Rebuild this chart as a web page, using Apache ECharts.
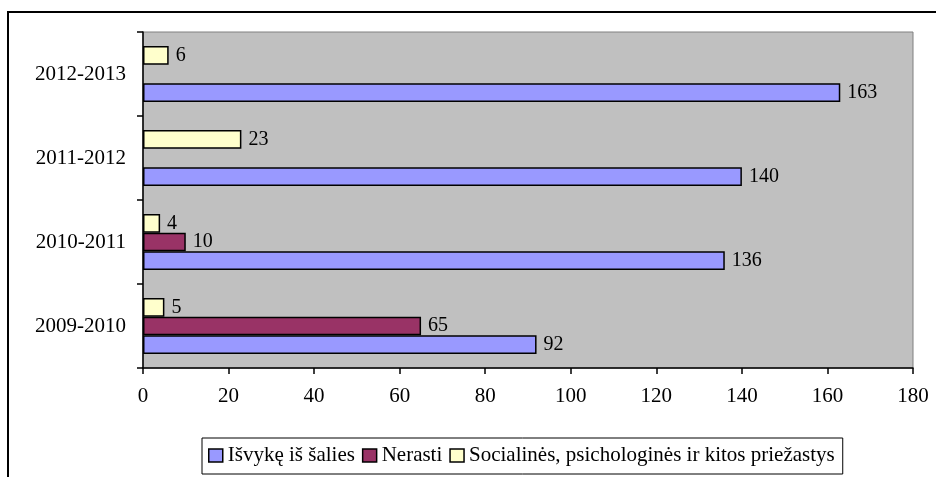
<!DOCTYPE html>
<html>
<head>
<meta charset="utf-8">
<script src="https://cdn.jsdelivr.net/npm/echarts@6/dist/echarts.min.js"></script>
<style>
  html, body { margin: 0; padding: 0; background: #fff; }
  #chart { width: 936px; height: 477px; }
</style>
</head>
<body>
<div id="chart"></div>
<script>
var categories = ['2009-2010', '2010-2011', '2011-2012', '2012-2013'];
var isvyke = [92, 136, 140, 163];
var nerasti = [65, 10, null, null];
var socialines = [5, 4, 23, 6];
var xTicks = { min: 0, max: 180, interval: 20 };

var font = 'Liberation Serif';

var chart = echarts.init(document.getElementById('chart'));

function barSeries(name, data, color) {
  return {
    name: name,
    type: 'bar',
    data: data,
    barGap: '0%',
    barCategoryGap: '33.3%',
    itemStyle: { color: color, borderColor: '#000', borderWidth: 1.5 },
    label: {
      show: true,
      position: 'right',
      distance: 7,
      color: '#000',
      fontFamily: font,
      fontSize: 20
    }
  };
}

// echarts stacks horizontal groups top-down, so the first legend item goes last
var option = {
  animation: false,
  graphic: [{
    type: 'rect',
    z: -1,
    shape: { x: 8, y: 12, width: 1000, height: 1000 },
    style: { fill: 'none', stroke: '#000', lineWidth: 2 }
  }],
  grid: {
    left: 143, top: 32, right: 23, bottom: 109,
    show: true,
    backgroundColor: '#C0C0C0',
    borderColor: '#808080',
    borderWidth: 1
  },
  legend: {
    data: ['Išvykę iš šalies', 'Nerasti', 'Socialinės, psichologinės ir kitos priežastys'],
    left: 202,
    top: 438,
    padding: [7, 8, 8, 6],
    borderColor: '#000',
    borderWidth: 1,
    itemWidth: 14,
    itemHeight: 13,
    itemGap: 7,
    icon: 'rect',
    itemStyle: { borderColor: '#000', borderWidth: 1.5 },
    textStyle: { color: '#000', fontFamily: font, fontSize: 21 }
  },
  xAxis: {
    type: 'value',
    min: xTicks.min,
    max: xTicks.max,
    interval: xTicks.interval,
    splitLine: { show: false },
    axisLine: { show: true, lineStyle: { color: '#000', width: 1.5 } },
    axisTick: { show: true, length: 6, lineStyle: { color: '#000', width: 1.5 } },
    axisLabel: { color: '#000', fontFamily: font, fontSize: 21, margin: 18 }
  },
  yAxis: {
    type: 'category',
    data: categories,
    axisLine: { show: true, lineStyle: { color: '#000', width: 1.5 } },
    axisTick: { show: true, length: 6, interval: 0, lineStyle: { color: '#000', width: 1.5 } },
    axisLabel: { color: '#000', fontFamily: font, fontSize: 21, margin: 17 }
  },
  series: [
    barSeries('Socialinės, psichologinės ir kitos priežastys', socialines, '#FFFFCC'),
    barSeries('Nerasti', nerasti, '#993366'),
    barSeries('Išvykę iš šalies', isvyke, '#9999FF')
  ]
};

chart.setOption(option);
</script>
</body>
</html>
